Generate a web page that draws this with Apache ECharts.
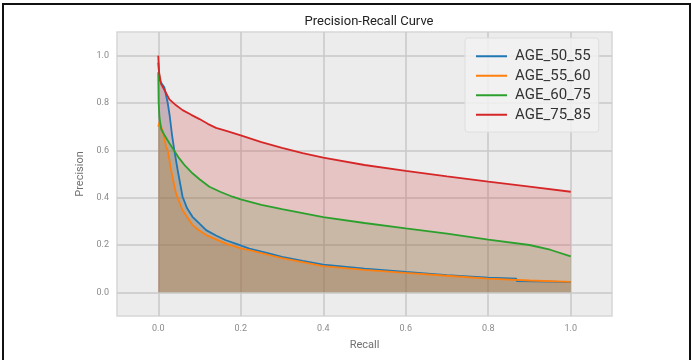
<!DOCTYPE html>
<html>
<head>
<meta charset="utf-8">
<script src="https://cdn.jsdelivr.net/npm/echarts@6/dist/echarts.min.js"></script>
<style>
  html, body { margin: 0; padding: 0; background: #fff; }
  #chart { width: 691px; height: 360px; }
</style>
</head>
<body>
<div id="chart"></div>
<script>
// 刻度
const tickValues = [0, 0.2, 0.4, 0.6, 0.8, 1.0]
const seriesNames = ['AGE_50_55', 'AGE_55_60', 'AGE_60_75', 'AGE_75_85']
const colors = ['#1f77b4', '#ff7f0e', '#2ca02c', '#d62728']

// AGE_50_55
const recall50 = [0, 0.003, 0.007, 0.015, 0.023, 0.028, 0.033, 0.039, 0.047, 0.059, 0.07, 0.083, 0.1, 0.116, 0.14, 0.164, 0.2, 0.221, 0.27, 0.3, 0.35, 0.4, 0.5, 0.6, 0.7, 0.8, 0.868, 0.869, 0.95, 1.0]
const prec50 = [0.97, 0.9, 0.885, 0.865, 0.8, 0.743, 0.67, 0.6, 0.517, 0.404, 0.355, 0.319, 0.29, 0.263, 0.24, 0.22, 0.198, 0.185, 0.164, 0.15, 0.133, 0.117, 0.1, 0.086, 0.073, 0.062, 0.058, 0.047, 0.045, 0.043]

// AGE_55_60
const recall55 = [0, 0.003, 0.005, 0.01, 0.019, 0.023, 0.031, 0.043, 0.059, 0.083, 0.1, 0.116, 0.164, 0.2, 0.221, 0.27, 0.3, 0.4, 0.5, 0.6, 0.7, 0.8, 0.9, 1.0]
const prec55 = [0.7, 0.72, 0.715, 0.686, 0.616, 0.6, 0.517, 0.418, 0.347, 0.284, 0.26, 0.242, 0.206, 0.186, 0.178, 0.157, 0.145, 0.111, 0.095, 0.082, 0.07, 0.058, 0.05, 0.044]

// AGE_60_75
const recall60 = [0, 0.001, 0.003, 0.007, 0.015, 0.027, 0.04, 0.051, 0.065, 0.083, 0.1, 0.124, 0.15, 0.18, 0.2, 0.25, 0.3, 0.4, 0.5, 0.6, 0.7, 0.8, 0.9, 0.95, 1.0]
const prec60 = [0.93, 0.8, 0.74, 0.69, 0.665, 0.63, 0.595, 0.566, 0.535, 0.503, 0.478, 0.446, 0.425, 0.404, 0.393, 0.37, 0.352, 0.318, 0.293, 0.27, 0.248, 0.223, 0.2, 0.18, 0.152]

// AGE_75_85
const recall75 = [0, 0.002, 0.007, 0.015, 0.027, 0.04, 0.059, 0.08, 0.1, 0.12, 0.14, 0.165, 0.2, 0.25, 0.3, 0.35, 0.4, 0.5, 0.6, 0.7, 0.8, 0.9, 1.0]
const prec75 = [1.0, 0.93, 0.88, 0.855, 0.815, 0.795, 0.77, 0.75, 0.732, 0.712, 0.695, 0.682, 0.663, 0.635, 0.61, 0.588, 0.569, 0.538, 0.513, 0.49, 0.468, 0.447, 0.425]

const recalls = [recall50, recall55, recall60, recall75]
const precisions = [prec50, prec55, prec60, prec75]

function zip(xs, ys) {
  return xs.map((x, i) => [x, ys[i]])
}

const chart = echarts.init(document.getElementById('chart'))

function makeAxis(name, gap) {
  return {
    type: 'value',
    min: -0.1,
    max: 1.1,
    name: name,
    nameGap: gap,
    nameLocation: 'middle',
    nameTextStyle: { color: '#707070', fontSize: 11, fontFamily: 'Roboto' },
    axisLine: { show: false },
    axisTick: { show: false, customValues: tickValues },
    axisLabel: {
      customValues: tickValues,
      formatter: v => Number(v).toFixed(1),
      color: '#8a8a8a',
      fontSize: 9,
      fontFamily: 'Roboto'
    },
    splitLine: { show: true, lineStyle: { color: '#c9c9c9', width: 1.5 } }
  }
}

chart.setOption({
  animation: false,
  backgroundColor: '#fff',
  title: {
    text: 'Precision-Recall Curve',
    left: 364,
    textAlign: 'center',
    top: 10,
    textStyle: { color: '#222', fontSize: 13, fontWeight: 'normal', fontFamily: 'Roboto' }
  },
  grid: {
    left: 117,
    right: 79,
    top: 32,
    bottom: 44,
    show: true,
    backgroundColor: '#ececec',
    borderColor: '#d6d6d6',
    borderWidth: 1.5
  },
  xAxis: makeAxis('Recall', 24),
  yAxis: makeAxis('Precision', 24),
  legend: {
    data: seriesNames,
    orient: 'vertical',
    left: 465,
    top: 38,
    icon: 'rect',
    itemWidth: 31,
    itemHeight: 2,
    itemGap: 3,
    padding: [10, 8, 9, 11],
    backgroundColor: 'rgba(242,242,242,0.85)',
    borderColor: '#dedede',
    borderWidth: 1,
    borderRadius: 3,
    textStyle: { color: '#333', fontSize: 15, fontFamily: 'Roboto', padding: [0, 0, 0, 3], lineHeight: 16.5 }
  },
  graphic: [{
    type: 'rect',
    shape: { x: 3, y: 4, width: 687, height: 370 },
    style: { fill: 'none', stroke: '#111', lineWidth: 2 },
    silent: true
  }],
  series: seriesNames.map((name, i) => ({
    name: name,
    type: 'line',
    showSymbol: false,
    smooth: false,
    color: colors[i],
    lineStyle: { width: 1.8 },
    areaStyle: { color: colors[i], opacity: 0.2, origin: 0 },
    data: zip(recalls[i], precisions[i])
  }))
})
</script>
</body>
</html>
